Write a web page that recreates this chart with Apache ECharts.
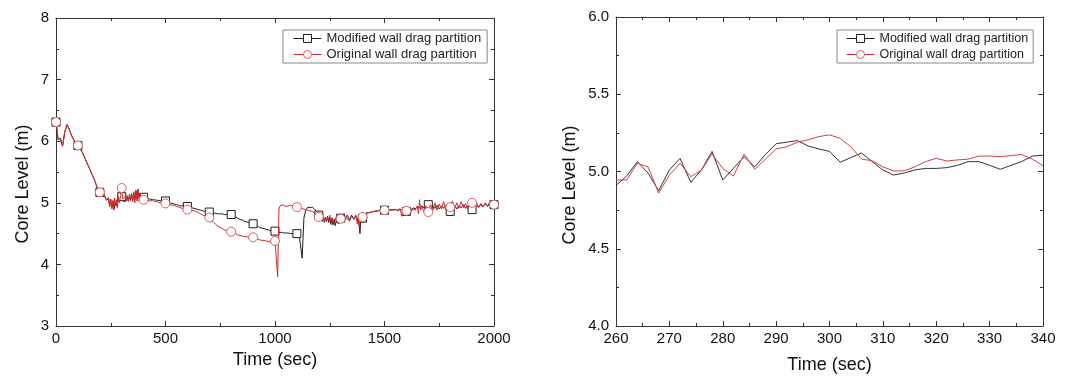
<!DOCTYPE html>
<html>
<head>
<meta charset="utf-8">
<script src="https://cdn.jsdelivr.net/npm/echarts@6/dist/echarts.min.js"></script>
<style>
  html, body { margin: 0; padding: 0; background: #fff; }
  #chart { width: 1083px; height: 381px; }
</style>
</head>
<body>
<div id="chart"></div>
<script>
// left panel: full transient, [time, level]
const leftModified = [
  [0,6.31],[10,6.02],[20,6.05],[30,5.92],[40,6.15],[50,6.27],[60,6.2],[70,6.1],[80,6.03],[90,5.97],
  [100,5.93],[110,5.88],[120,5.82],[130,5.74],[140,5.66],[150,5.58],[160,5.5],[170,5.42],[180,5.33],[190,5.22],
  [200,5.17],[210,5.1],[220,5.12],[230,5.05],[240,5.07],[245,4.95],[250,5.05],[255,4.92],[260,5.03],[265,4.9],
  [270,5.0],[275,4.95],[280,4.98],[285,5.08],[290,5.15],[295,5.18],[300,5.1],[305,5.06],[310,5.02],[315,5.05],
  [320,5.03],[325,5.08],[330,5.04],[335,5.1],[340,5.05],[345,5.14],[350,5.03],[355,5.17],[360,5.05],[365,5.2],
  [370,5.06],[375,5.22],[380,5.08],[385,5.13],[390,5.1],[400,5.09],[410,5.08],[420,5.07],[430,5.06],[440,5.05],
  [450,5.05],[460,5.04],[470,5.04],[480,5.03],[490,5.03],[500,5.03],[510,5.01],[520,5.0],[530,4.99],[540,4.98],
  [550,4.97],[560,4.96],[570,4.95],[580,4.95],[590,4.94],[600,4.94],[610,4.93],[620,4.92],[630,4.91],[640,4.9],
  [650,4.89],[660,4.88],[670,4.87],[680,4.86],[690,4.85],[700,4.85],[710,4.84],[720,4.83],[730,4.83],[740,4.82],
  [750,4.82],[760,4.82],[770,4.81],[780,4.81],[790,4.81],[800,4.81],[810,4.79],[820,4.77],[830,4.75],[840,4.73],
  [850,4.72],[860,4.7],[870,4.69],[880,4.68],[890,4.67],[900,4.66],[910,4.64],[920,4.62],[930,4.6],[940,4.59],
  [950,4.58],[960,4.57],[970,4.56],[980,4.55],[990,4.55],[1000,4.54],[1010,4.53],[1020,4.52],[1030,4.52],[1040,4.51],
  [1050,4.51],[1060,4.51],[1070,4.5],[1080,4.5],[1090,4.5],[1100,4.5],[1110,4.49],[1118,4.48],[1124,4.1],[1132,4.75],
  [1140,4.88],[1150,4.93],[1160,4.92],[1170,4.93],[1180,4.9],[1190,4.85],[1200,4.8],[1205,4.76],[1210,4.8],[1215,4.7],
  [1220,4.79],[1225,4.68],[1230,4.77],[1235,4.7],[1240,4.78],[1245,4.68],[1250,4.76],[1255,4.65],[1260,4.74],[1265,4.64],
  [1270,4.72],[1275,4.63],[1280,4.7],[1290,4.66],[1300,4.75],[1310,4.78],[1315,4.82],[1320,4.74],[1330,4.8],[1340,4.72],
  [1350,4.8],[1360,4.73],[1370,4.79],[1380,4.7],[1385,4.62],[1388,4.5],[1392,4.78],[1400,4.75],[1410,4.82],[1420,4.84],
  [1430,4.84],[1440,4.85],[1450,4.86],[1460,4.86],[1470,4.87],[1480,4.88],[1490,4.88],[1500,4.88],[1510,4.88],[1520,4.89],
  [1530,4.88],[1540,4.89],[1550,4.89],[1560,4.88],[1570,4.9],[1580,4.88],[1590,4.9],[1600,4.86],[1610,4.9],[1620,4.88],
  [1630,4.92],[1640,4.9],[1650,4.94],[1660,4.92],[1670,4.95],[1680,4.92],[1690,4.96],[1700,4.97],[1710,4.93],[1720,4.96],
  [1730,4.91],[1740,4.96],[1750,4.9],[1760,4.95],[1770,4.91],[1780,4.96],[1790,4.88],[1800,4.86],[1810,4.92],[1820,4.96],
  [1830,4.9],[1840,4.95],[1850,4.92],[1860,4.97],[1870,4.91],[1880,4.95],[1890,4.9],[1900,4.89],[1910,4.94],[1920,4.96],
  [1930,4.93],[1940,4.97],[1950,4.94],[1960,4.98],[1970,4.95],[1980,5.0],[1990,4.96],[2000,4.97]
];
const leftOriginal = [
  [0,6.31],[10,6.02],[20,6.05],[30,5.92],[40,6.15],[50,6.27],[60,6.2],[70,6.1],[80,6.03],[90,5.97],
  [100,5.93],[110,5.88],[120,5.82],[130,5.74],[140,5.66],[150,5.58],[160,5.5],[170,5.42],[180,5.33],[190,5.22],
  [200,5.17],[210,5.1],[220,5.14],[230,5.04],[240,5.09],[245,4.93],[250,5.06],[255,4.9],[260,5.04],[264,4.88],
  [268,5.08],[272,4.95],[276,5.05],[280,4.92],[285,5.1],[290,5.0],[295,5.12],[300,5.24],[305,5.06],[310,5.03],
  [315,5.1],[320,5.04],[325,5.12],[330,5.02],[335,5.14],[340,5.03],[345,5.16],[350,5.02],[355,5.18],[360,5.0],
  [365,5.2],[370,5.03],[375,5.21],[380,5.02],[385,5.15],[390,5.06],[400,5.05],[410,5.06],[420,5.04],[430,5.03],
  [440,5.04],[450,5.02],[460,5.02],[470,5.0],[480,5.01],[490,4.99],[500,4.99],[510,4.98],[520,4.97],[530,4.96],
  [540,4.96],[550,4.94],[560,4.93],[570,4.92],[580,4.9],[590,4.9],[600,4.89],[610,4.88],[620,4.88],[630,4.87],
  [640,4.86],[650,4.84],[660,4.82],[670,4.8],[680,4.79],[690,4.77],[700,4.76],[710,4.72],[720,4.68],[730,4.65],
  [740,4.62],[750,4.6],[760,4.58],[770,4.56],[780,4.55],[790,4.54],[800,4.53],[810,4.51],[820,4.5],[830,4.48],
  [840,4.47],[850,4.46],[860,4.45],[870,4.45],[880,4.44],[890,4.44],[900,4.44],[910,4.42],[920,4.41],[930,4.4],
  [940,4.39],[950,4.39],[960,4.38],[970,4.37],[980,4.36],[990,4.37],[1000,4.38],[1005,4.36],[1012,3.8],[1018,4.9],
  [1025,4.96],[1040,4.96],[1050,4.94],[1060,4.95],[1070,4.96],[1080,4.95],[1090,4.94],[1100,4.93],[1110,4.92],[1120,4.91],
  [1130,4.9],[1140,4.89],[1150,4.88],[1160,4.87],[1170,4.86],[1180,4.84],[1190,4.8],[1200,4.77],[1210,4.82],[1215,4.72],
  [1220,4.78],[1225,4.7],[1230,4.76],[1235,4.69],[1240,4.77],[1245,4.72],[1250,4.8],[1255,4.7],[1260,4.76],[1265,4.68],
  [1270,4.74],[1275,4.7],[1280,4.78],[1290,4.72],[1300,4.74],[1310,4.78],[1320,4.72],[1330,4.75],[1340,4.7],[1350,4.78],
  [1360,4.74],[1370,4.8],[1375,4.66],[1380,4.72],[1385,4.6],[1390,4.75],[1400,4.77],[1410,4.8],[1420,4.83],[1430,4.84],
  [1440,4.85],[1450,4.86],[1460,4.87],[1470,4.87],[1480,4.88],[1490,4.88],[1500,4.88],[1510,4.89],[1520,4.88],[1530,4.89],
  [1540,4.88],[1550,4.89],[1560,4.87],[1570,4.89],[1580,4.78],[1590,4.9],[1600,4.87],[1610,4.92],[1620,4.85],[1630,4.9],
  [1640,4.88],[1650,4.95],[1655,4.82],[1660,5.05],[1665,4.88],[1670,4.94],[1680,4.86],[1690,4.95],[1700,4.85],[1710,4.97],
  [1720,4.87],[1730,5.0],[1740,4.88],[1750,4.98],[1760,4.9],[1770,5.02],[1780,4.88],[1790,4.98],[1800,4.93],[1810,5.03],
  [1820,4.9],[1830,5.0],[1840,4.91],[1850,5.02],[1860,4.92],[1870,4.99],[1880,4.9],[1890,5.0],[1900,5.0],[1910,4.93],
  [1920,5.01],[1930,4.92],[1940,4.99],[1950,4.93],[1960,5.0],[1970,4.94],[1980,4.98],[1990,4.95],[2000,4.97]
];

// right panel: zoom 260-340 s
const rightTimes = [260,262,264,266,268,270,272,274,276,278,280,282,284,286,288,290,292,294,296,298,
  300,302,304,306,308,310,312,314,316,318,320,322,324,326,328,330,332,334,336,338,340];
const rightModified = [4.91,4.97,5.064,4.99,4.876,5.01,5.085,4.93,5.01,5.13,4.945,5.02,5.096,5.03,5.11,5.18,5.19,5.2,5.165,5.146,
  5.13,5.06,5.09,5.12,5.064,5.01,4.977,4.99,5.01,5.02,5.02,5.025,5.04,5.064,5.064,5.04,5.014,5.04,5.064,5.1,5.105];
const rightOriginal = [4.945,4.945,5.053,5.03,4.86,4.977,5.053,4.966,5.01,5.113,5.02,4.97,5.113,5.014,5.08,5.146,5.16,5.19,5.205,5.226,
  5.237,5.215,5.16,5.08,5.07,5.03,5.003,5.005,5.03,5.064,5.085,5.068,5.075,5.08,5.1,5.1,5.096,5.103,5.11,5.08,5.038];

const leftXTicks = [0, 500, 1000, 1500, 2000];
const leftYTicks = [3, 4, 5, 6, 7, 8];
const rightXTicks = [260, 270, 280, 290, 300, 310, 320, 330, 340];
const rightYTicks = [4.0, 4.5, 5.0, 5.5, 6.0];

const names = ['Modified wall drag partition', 'Original wall drag partition'];
const markerStep = 100;

const FONT = "'Liberation Sans', Arial, sans-serif";
const BLACK = '#1e1e1e';
const RED = '#d22a2a';
const RED_MARK = '#d46060';

// only every 100 s carries a marker
const withMarkers = (pairs) => pairs.map(p => p[0] % markerStep === 0 ? { value: p } : { value: p, symbol: 'none' });

const chart = echarts.init(document.getElementById('chart'));

function axisPair(ticks, gridIndex, mainPos, mirrorPos, isX, title, nameGap, namePad, fmt) {
  const step = ticks[1] - ticks[0];
  const base = {
    type: 'value',
    gridIndex,
    min: ticks[0],
    max: ticks[ticks.length - 1],
    interval: step,
    axisLine: { show: true, onZero: false, lineStyle: { color: '#333', width: 1 } },
    axisTick: { show: true, inside: true, length: 5, lineStyle: { color: '#333' } },
    minorTick: { show: true, splitNumber: 2, length: 3, lineStyle: { color: '#333' } },
    splitLine: { show: false },
  };
  const main = Object.assign({}, base, {
    position: mainPos,
    name: title,
    nameLocation: 'middle',
    nameGap,
    nameTextStyle: { fontFamily: FONT, fontSize: 18, color: '#111', padding: namePad },
    axisLabel: { fontFamily: FONT, fontSize: 15, color: '#111', margin: isX ? 5 : 7, formatter: fmt },
  });
  const mirror = Object.assign({}, base, { position: mirrorPos, axisLabel: { show: false } });
  return [main, mirror];
}

const lx = axisPair(leftXTicks, 0, 'bottom', 'top', true, 'Time (sec)', 21, [0, 0, 0, 0], v => String(v));
const ly = axisPair(leftYTicks, 0, 'left', 'right', false, 'Core Level (m)', 24, [0, 24, 0, 0], v => String(v));
const rx = axisPair(rightXTicks, 1, 'bottom', 'top', true, 'Time (sec)', 30, [0, 0, 0, 0], v => String(v));
const ry = axisPair(rightYTicks, 1, 'left', 'right', false, 'Core Level (m)', 37, [0, 27, 0, 0], v => v.toFixed(1));

const legendBase = {
  orient: 'vertical',
  itemWidth: 28,
  itemHeight: 10,
  itemGap: 3,
  borderColor: '#888',
  borderWidth: 1,
  borderRadius: 0,
  lineStyle: { width: 1 },
  itemStyle: { borderWidth: 1 },
  textStyle: { fontFamily: FONT, fontSize: 13, color: '#222' },
  data: names,
};

chart.setOption({
  backgroundColor: '#fff',
  animation: false,
  grid: [
    { left: 56, top: 18, width: 438, height: 308 },
    { left: 616, top: 17, width: 427, height: 309 },
  ],
  xAxis: [lx[0], lx[1], rx[0], rx[1]],
  yAxis: [ly[0], ly[1], ry[0], ry[1]],
  legend: [
    Object.assign({}, legendBase, { left: 283, top: 30, padding: [2, 6, 2, 10] }),
    Object.assign({}, legendBase, { left: 837, top: 30, padding: [2, 5, 2, 9], textStyle: { fontFamily: FONT, fontSize: 12.5, color: '#222' } }),
  ],
  series: [
    {
      name: names[0], type: 'line', xAxisIndex: 0, yAxisIndex: 0,
      data: withMarkers(leftModified),
      symbol: 'rect', symbolSize: 8, showAllSymbol: true,
      lineStyle: { color: BLACK, width: 1 },
      itemStyle: { color: '#fff', borderColor: BLACK, borderWidth: 1 },
      z: 2,
    },
    {
      name: names[1], type: 'line', xAxisIndex: 0, yAxisIndex: 0,
      data: withMarkers(leftOriginal),
      symbol: 'circle', symbolSize: 9, showAllSymbol: true,
      lineStyle: { color: RED, width: 1 },
      itemStyle: { color: '#fff', borderColor: RED_MARK, borderWidth: 1 },
      z: 3,
    },
    {
      name: names[0], type: 'line', xAxisIndex: 2, yAxisIndex: 2,
      data: rightTimes.map((t, i) => [t, rightModified[i]]),
      symbol: 'rect', showSymbol: false,
      lineStyle: { color: '#333', width: 1 },
      itemStyle: { color: '#fff', borderColor: BLACK, borderWidth: 1 },
      z: 2,
    },
    {
      name: names[1], type: 'line', xAxisIndex: 2, yAxisIndex: 2,
      data: rightTimes.map((t, i) => [t, rightOriginal[i]]),
      symbol: 'circle', showSymbol: false,
      lineStyle: { color: '#cc4444', width: 1 },
      itemStyle: { color: '#fff', borderColor: RED_MARK, borderWidth: 1 },
      z: 3,
    },
  ],
});
</script>
</body>
</html>
